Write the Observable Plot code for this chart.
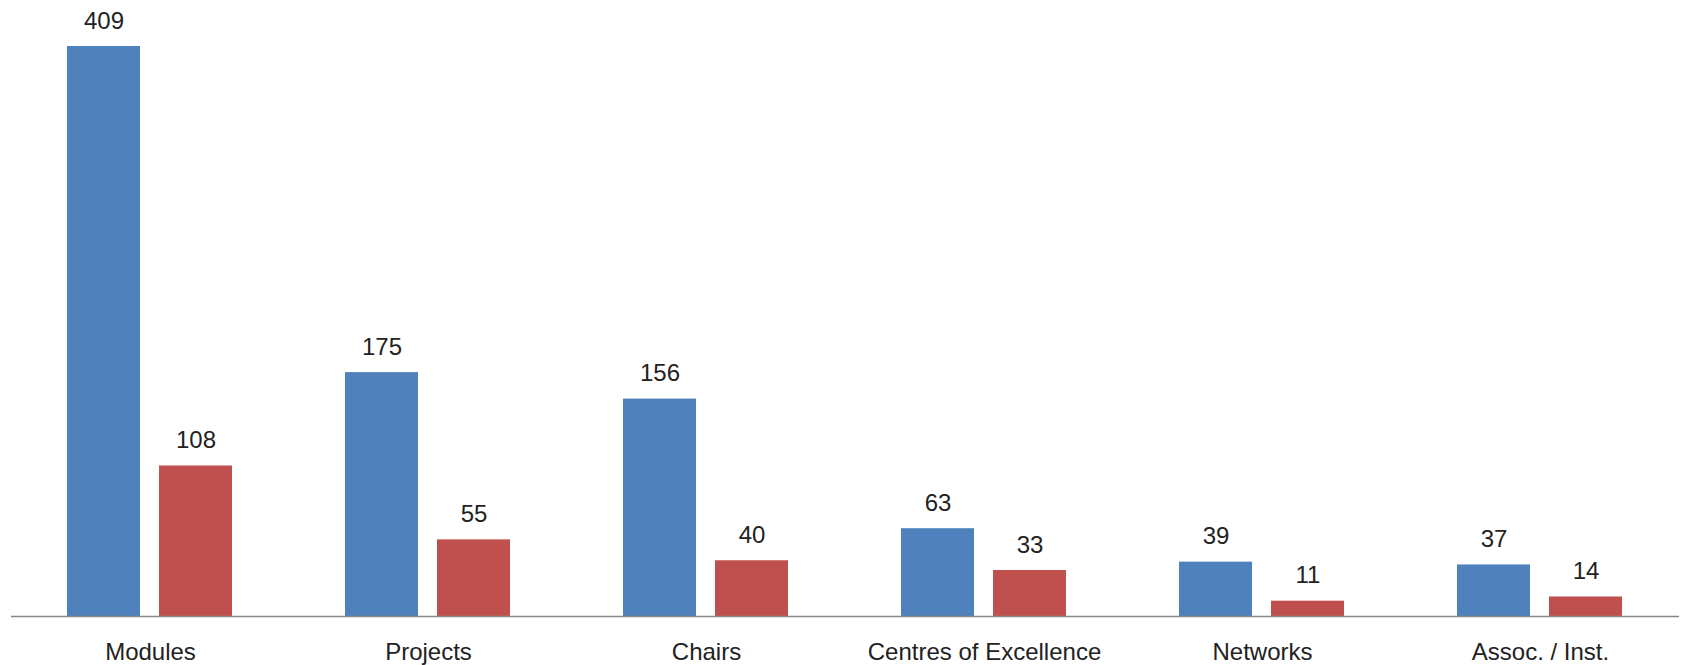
<!DOCTYPE html>
<html>
<head>
<meta charset="utf-8">
<script src="https://cdn.jsdelivr.net/npm/d3@7"></script>
<script src="https://cdn.jsdelivr.net/npm/@observablehq/plot@0.6"></script>
<style>
  html, body { margin: 0; padding: 0; background: #fff; }
  #chart svg { display: block; }
</style>
</head>
<body>
<div id="chart"></div>
<script>
const categories = ["Modules", "Projects", "Chairs", "Centres of Excellence", "Networks", "Assoc. / Inst."];
const seriesNames = ["Series 1", "Series 2"];
const series1 = [409, 175, 156, 63, 39, 37];
const series2 = [108, 55, 40, 33, 11, 14];
const colors = ["#4F81BD", "#C0504D"];

const data = [];
categories.forEach((c, i) => {
  data.push({category: c, series: seriesNames[0], value: series1[i]});
  data.push({category: c, series: seriesNames[1], value: series2[i]});
});

const font = "'Liberation Sans', Arial, sans-serif";

const chart = Plot.plot({
  width: 1683,
  height: 665,
  marginTop: 46,
  marginBottom: 49,
  marginLeft: 10,
  marginRight: 3,
  style: {fontFamily: font, fontSize: "24px", color: "#222", background: "#fff"},
  fx: {domain: categories, padding: 0, label: null},
  x: {domain: seriesNames, paddingInner: 0.204, paddingOuter: 0.599, axis: null},
  y: {domain: [0, 409], axis: null},
  color: {domain: seriesNames, range: colors},
  marks: [
    Plot.barY(data, {fx: "category", x: "series", y: "value", fill: "series"}),
    Plot.ruleY([0], {stroke: "#868686", strokeWidth: 1.5}),
    Plot.text(data, {fx: "category", x: "series", y: "value", text: d => String(d.value),
      lineAnchor: "bottom", dy: -18, fontSize: 24, fill: "#222"}),
    Plot.axisFx({anchor: "bottom", tickSize: 0, tickPadding: 26, fontSize: 24, label: null, fill: "#222"})
  ]
});
document.getElementById("chart").appendChild(chart);
</script>
</body>
</html>
